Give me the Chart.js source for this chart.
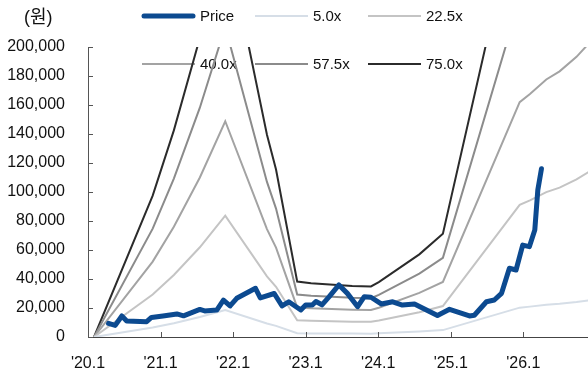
<!DOCTYPE html>
<html>
<head>
<meta charset="utf-8">
<script src="https://cdn.jsdelivr.net/npm/chart.js@4.4.1/dist/chart.umd.min.js"></script>
<style>
  html, body { margin: 0; padding: 0; background: #fff; }
  #wrap { width: 588px; height: 374px; }
</style>
</head>
<body>
<div id="wrap"><canvas id="myChart" width="588" height="374"></canvas></div>
<script>
// x = months counted from Jan 2020 ('20.1 = 0)
const tickMonths = [0, 12, 24, 36, 48, 60, 72];
const tickLabels = ["'20.1", "'21.1", "'22.1", "'23.1", "'24.1", "'25.1", "'26.1"];

// share price (원)
const priceMonths = [3.4, 4.5, 5.6, 6.4, 9.7, 10.5, 12.4, 14.7, 15.8, 18.5, 19.3, 21.3, 22.4, 23.5, 24.6,
  27.7, 28.5, 30.8, 32.1, 33.2, 35.2, 36.0, 37.1, 37.7, 38.7, 39.9, 41.5, 42.9, 44.6, 45.7, 46.8,
  48.5, 50.4, 52.0, 54.0, 55.4, 57.8, 59.8, 63.1, 63.9, 65.9, 67.2, 68.4, 69.7, 70.8, 71.9, 73.0,
  73.9, 74.4, 75.0];
const priceValues = [9400, 8000, 14500, 11000, 10600, 13500, 14500, 15900, 14600, 19000, 18000, 18600, 25500, 21400, 26700,
  33600, 27000, 30000, 21400, 24300, 18600, 22000, 22000, 24500, 22200, 27800, 35900, 30100, 20900, 27800, 27400,
  22800, 24300, 22000, 22800, 19800, 14800, 19100, 14500, 15000, 24300, 25500, 30100, 47400, 46200, 63400, 62300,
  73800, 101400, 116000];

// EPS behind the PER bands
const epsMonths = [1.0, 10.7, 14.2, 18.5, 22.7, 29.6, 31.1, 34.6, 36.9, 43.7, 46.8, 48.1, 54.8, 58.7,
  71.4, 73.1, 75.8, 78.0, 80.8, 83.0];
const epsValues = [0, 1300, 1900, 2750, 3720, 1860, 1540, 510, 495, 470, 465, 505, 760, 950,
  4050, 4190, 4440, 4580, 4830, 5080];

const bandNames = ['5.0x', '22.5x', '40.0x', '57.5x', '75.0x'];
const bandMultiples = [5.0, 22.5, 40.0, 57.5, 75.0];
const bandColors = ['#d6dee7', '#c4c4c4', '#a3a3a3', '#8b8b8b', '#2b2b2b'];

const FONT = "'Liberation Sans', Arial, sans-serif";

const datasets = [{
  label: 'Price',
  data: priceMonths.map((m, i) => ({ x: m, y: priceValues[i] })),
  borderColor: '#0c4a90',
  borderWidth: 5,
  borderCapStyle: 'round',
  borderJoinStyle: 'round',
  pointRadius: 0,
  order: 0
}];
bandNames.forEach((name, k) => {
  datasets.push({
    label: name,
    data: epsMonths.map((m, i) => ({ x: m, y: epsValues[i] * bandMultiples[k] })),
    borderColor: bandColors[k],
    borderWidth: 2,
    pointRadius: 0,
    order: 1
  });
});

// legend drawn by hand: 2 rows of 3, inside the plot
const handLegend = {
  id: 'handLegend',
  beforeDatasetsDraw(chart) {
    const ctx = chart.ctx;
    const cols = [142, 255, 368];
    const rows = [16, 64];
    ctx.save();
    ctx.font = '15px ' + FONT;
    ctx.textBaseline = 'middle';
    chart.data.datasets.forEach((ds, i) => {
      const x = cols[i % 3], y = rows[Math.floor(i / 3)];
      ctx.strokeStyle = ds.borderColor;
      ctx.lineWidth = i === 0 ? 5 : 2;
      ctx.lineCap = i === 0 ? 'round' : 'butt';
      ctx.beginPath();
      ctx.moveTo(x + (i === 0 ? 2 : 0), y);
      ctx.lineTo(x + (i === 0 ? 51 : 53), y);
      ctx.stroke();
      ctx.fillStyle = '#111';
      ctx.fillText(ds.label, x + 58, y + 1);
    });
    ctx.restore();
  },
  afterDraw(chart) {
    const { ctx, chartArea, scales } = chart;
    ctx.save();
    // unit
    ctx.fillStyle = '#111';
    ctx.font = "18px 'Liberation Sans', 'Noto Sans CJK KR', sans-serif";
    ctx.textBaseline = 'middle';
    ctx.fillText('(원)', 24, 18);
    // inward tick marks
    ctx.strokeStyle = '#555';
    ctx.lineWidth = 1;
    ctx.beginPath();
    scales.y.ticks.forEach(t => {
      const y = Math.round(scales.y.getPixelForValue(t.value)) + 0.5;
      ctx.moveTo(chartArea.left, y);
      ctx.lineTo(chartArea.left + 5, y);
    });
    scales.x.ticks.forEach(t => {
      const x = Math.round(scales.x.getPixelForValue(t.value)) + 0.5;
      ctx.moveTo(x, chartArea.bottom);
      ctx.lineTo(x, chartArea.bottom - 5);
    });
    ctx.stroke();
    ctx.restore();
  }
};

const ctx = document.getElementById('myChart').getContext('2d');
const myChart = new Chart(ctx, {
  type: 'line',
  data: { datasets: datasets },
  plugins: [handLegend],
  options: {
    responsive: false,
    animation: false,
    devicePixelRatio: 1,
    layout: { padding: { top: 47, right: 0, bottom: 0, left: 0 } },
    plugins: { legend: { display: false }, tooltip: { enabled: false } },
    elements: { line: { tension: 0 } },
    scales: {
      x: {
        type: 'linear',
        min: 0,
        max: 82.7,
        grid: { display: false },
        border: { display: true, color: '#444', width: 1 },
        afterBuildTicks: s => { s.ticks = tickMonths.map(v => ({ value: v })); },
        afterFit: s => { s.height = 37; },
        ticks: {
          padding: 9,
          maxRotation: 0,
          color: '#111',
          font: { family: FONT, size: 16 },
          callback: v => tickLabels[tickMonths.indexOf(v)]
        }
      },
      y: {
        min: 0,
        max: 200000,
        grid: { display: false },
        border: { display: true, color: '#555', width: 1 },
        afterFit: s => { s.width = 88; },
        ticks: {
          stepSize: 20000,
          padding: 15,
          color: '#111',
          font: { family: FONT, size: 16 },
          callback: v => v.toLocaleString('en-US')
        }
      }
    }
  }
});
</script>
</body>
</html>
